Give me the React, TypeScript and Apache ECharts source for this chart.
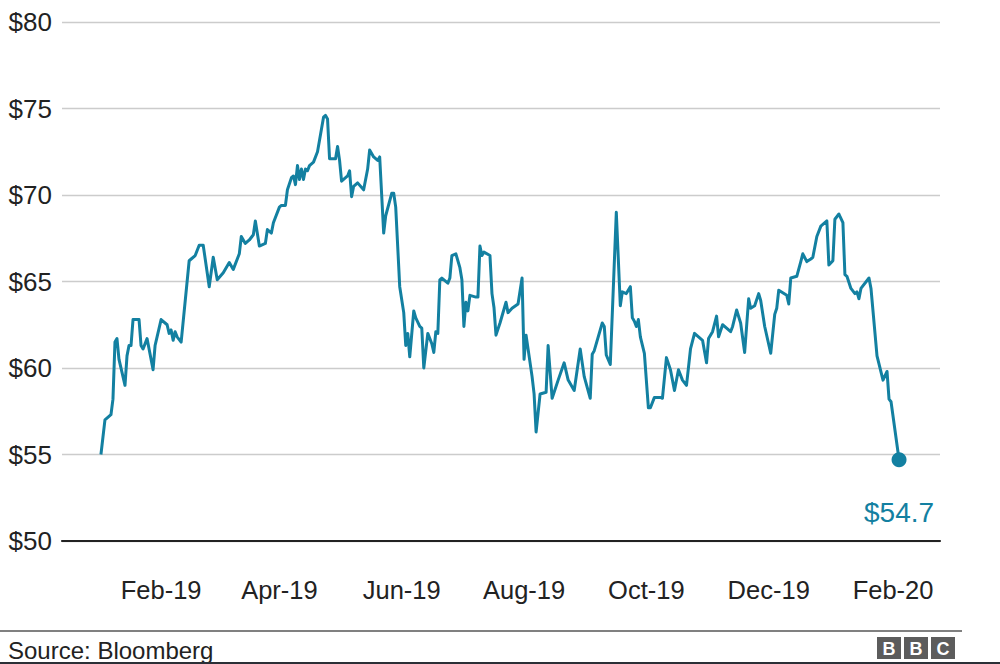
import React, { useEffect, useRef } from 'react';
import * as echarts from 'echarts';

// Brent crude, US$ per barrel. Day offsets are counted from 1 January 2019.
const baseDate = '2019-01-01';
const tradingDay = [
  1, 3, 6, 7, 8, 9, 10, 13, 14, 15, 16, 17, 20, 21, 22, 24, 27, 28, 29, 31,
  34, 35, 36, 37, 38, 39, 41, 45, 46, 48, 50, 52, 55, 57, 59, 62, 65, 67, 70, 71,
  73, 75, 77, 78, 80, 83, 84, 86, 87, 90, 91, 93, 94, 96, 97, 98, 99, 100, 101, 102,
  103, 104, 105, 107, 109, 112, 113, 114, 115, 118, 119, 120, 121, 124, 125, 126, 127, 129, 132, 134,
  135, 137, 139, 140, 142, 143, 146, 147, 148, 150, 152, 153, 154, 155, 157, 158, 160, 161, 162, 164,
  166, 167, 168, 169, 170, 171, 174, 175, 176, 178, 180, 181, 182, 183, 184, 185, 188, 189, 190, 191,
  192, 195, 196, 197, 198, 200, 203, 204, 206, 209, 211, 212, 213, 216, 217, 218, 220, 223, 224, 226,
  229, 232, 234, 237, 240, 242, 245, 246, 247, 251, 252, 253, 255, 258, 260, 261, 263, 265, 266, 267,
  268, 269, 270, 272, 274, 275, 277, 280, 281, 283, 285, 287, 289, 291, 293, 295, 297, 299, 301, 303,
  304, 306, 308, 309, 311, 313, 315, 316, 318, 320, 322, 324, 325, 327, 329, 330, 332, 335, 337, 338,
  339, 343, 344, 345, 348, 350, 351, 353, 355, 356, 358, 360, 363, 364, 366, 367, 369, 371, 372, 373,
  375, 377, 378, 379, 380, 384, 385, 388, 391, 393, 394, 395, 399,
];
const brentPrice = [
  55.0, 57.0, 57.3, 58.2, 61.5, 61.7, 60.5, 59.0, 60.7, 61.3, 61.3, 62.8, 62.8, 61.3, 61.1, 61.7, 59.9, 61.3, 61.8, 62.8,
  62.5, 62.0, 62.2, 61.6, 62.1, 61.8, 61.5, 66.2, 66.3, 66.5, 67.1, 67.1, 64.7, 66.4, 65.1, 65.5, 66.1, 65.7, 66.6, 67.6,
  67.2, 67.4, 67.7, 68.5, 67.05, 67.2, 68.0, 67.8, 68.4, 69.3, 69.4, 69.4, 70.3, 71.0, 71.1, 70.6, 71.7, 70.9, 71.5, 70.9,
  71.5, 71.4, 71.7, 71.9, 72.5, 74.5, 74.6, 74.4, 72.1, 72.1, 72.8, 72.0, 70.8, 71.1, 71.4, 69.9, 70.5, 70.7, 70.3, 71.5,
  72.6, 72.2, 72.0, 72.2, 67.8, 68.8, 70.1, 70.1, 69.3, 64.7, 63.2, 61.3, 62.0, 60.65, 63.3, 62.9, 62.4, 62.3, 60.0, 62.0,
  61.4, 60.9, 62.1, 62.0, 65.1, 65.2, 64.9, 65.2, 66.5, 66.6, 65.8, 65.1, 62.4, 63.8, 63.3, 64.2, 64.1, 64.1, 67.05, 66.5,
  66.7, 66.5, 64.3, 63.5, 61.9, 62.6, 63.8, 63.2, 63.45, 63.7, 65.2, 60.5, 61.9, 59.5, 58.5, 56.3, 58.5, 58.6, 61.3, 58.25,
  59.3, 60.3, 59.3, 58.7, 61.1, 59.5, 58.25, 60.8, 61.0, 62.6, 62.4, 60.75, 60.2, 69.0, 63.6, 64.4, 64.3, 64.7, 62.9, 62.7,
  62.4, 62.8, 61.8, 60.85, 57.7, 57.7, 58.3, 58.3, 58.25, 60.6, 59.9, 58.7, 59.9, 59.3, 59.0, 61.1, 62.0, 61.8, 61.6, 60.3,
  61.7, 62.1, 63.0, 61.8, 62.5, 62.3, 62.1, 62.4, 63.35, 62.6, 60.9, 64.0, 63.45, 63.6, 64.3, 63.9, 62.4, 60.85, 63.1, 63.45,
  64.5, 64.2, 63.7, 65.2, 65.3, 66.15, 66.6, 66.15, 66.3, 66.4, 67.6, 68.2, 68.5, 65.95, 66.2, 68.6, 68.9, 68.4, 65.4, 65.3,
  64.6, 64.3, 64.4, 64.0, 64.6, 65.2, 64.6, 60.7, 59.3, 59.8, 58.2, 58.05, 54.7,
];

const tickDates = ['2019-02-01', '2019-04-01', '2019-06-01', '2019-08-01', '2019-10-01', '2019-12-01', '2020-02-01'];
const tickLabels = ['Feb-19', 'Apr-19', 'Jun-19', 'Aug-19', 'Oct-19', 'Dec-19', 'Feb-20'];
const yMin = 50;
const yMax = 80;
const yStep = 5;
const axisStart = '2018-12-13T14:00:00Z';
const axisEnd = '2020-02-24T10:00:00Z';
const sourceText = 'Source: Bloomberg';

const LINE = '#1380A1';
const FONT = '"Liberation Sans", Arial, Helvetica, sans-serif';
const DAY = 86400000;

export default function App() {
  const ref = useRef<HTMLDivElement>(null);

  useEffect(() => {
    if (!ref.current) return;
    const chart = echarts.init(ref.current, null, { renderer: 'svg' });
    const base = Date.parse(baseDate);
    const points = tradingDay.map((d, i) => [base + d * DAY, brentPrice[i]]);
    const last = points[points.length - 1];
    const tickValues = tickDates.map((d) => Date.parse(d));

    const labelFor = (v: number) => {
      let best = 0;
      let bestDiff = Infinity;
      tickValues.forEach((t, i) => {
        const diff = Math.abs(t - v);
        if (diff < bestDiff) {
          bestDiff = diff;
          best = i;
        }
      });
      return tickLabels[best];
    };

    const bbcX = [877, 904, 931];
    const bbcLetters = ['B', 'B', 'C'];

    chart.setOption({
      animation: false,
      backgroundColor: '#ffffff',
      textStyle: { fontFamily: FONT },
      grid: { left: 62, right: 60, top: 22, bottom: 123, containLabel: false },
      xAxis: {
        type: 'value',
        min: Date.parse(axisStart),
        max: Date.parse(axisEnd),
        z: 5,
        axisLine: { show: true, onZero: false, lineStyle: { color: '#222222', width: 2.2 } },
        axisTick: { show: false },
        splitLine: { show: false },
        axisLabel: {
          customValues: tickValues,
          formatter: (v: number) => labelFor(v),
          color: '#222222',
          fontSize: 25.5,
          fontFamily: FONT,
          margin: 36,
          hideOverlap: false,
          showMinLabel: true,
          showMaxLabel: true,
        },
      },
      yAxis: {
        type: 'value',
        min: yMin,
        max: yMax,
        interval: yStep,
        axisLine: { show: false },
        axisTick: { show: false },
        splitLine: { show: true, lineStyle: { color: '#cccccc', width: 1.3 } },
        axisLabel: {
          formatter: (v: number) => '$' + v,
          color: '#222222',
          fontSize: 26,
          fontFamily: FONT,
          margin: 10,
        },
      },
      series: [
        {
          type: 'line',
          data: points,
          showSymbol: false,
          smooth: false,
          lineStyle: { color: LINE, width: 3, join: 'round' },
          z: 3,
        },
        {
          type: 'scatter',
          data: [last],
          symbol: 'circle',
          symbolSize: 15,
          itemStyle: { color: LINE, opacity: 1 },
          z: 4,
          label: {
            show: true,
            position: 'bottom',
            distance: 31,
            formatter: (p: any) => '$' + p.value[1],
            color: LINE,
            opacity: 1,
            fontSize: 28,
            fontFamily: FONT,
          },
        },
      ],
      graphic: [
        {
          type: 'line',
          shape: { x1: 0, y1: 631, x2: 962, y2: 631 },
          style: { stroke: '#808080', lineWidth: 2 },
        },
        {
          type: 'text',
          x: 8,
          y: 650,
          style: {
            text: sourceText,
            fill: '#222222',
            fontSize: 24,
            fontFamily: FONT,
            textAlign: 'left',
            textVerticalAlign: 'middle',
          },
        },
        ...bbcX.map((x) => ({
          type: 'rect',
          shape: { x, y: 637, width: 24, height: 22 },
          style: { fill: '#5c5c5c' },
        })),
        ...bbcX.map((x, i) => ({
          type: 'text',
          x: x + 12,
          y: 648.5,
          style: {
            text: bbcLetters[i],
            fill: '#ffffff',
            fontSize: 18,
            fontWeight: 'bold',
            fontFamily: FONT,
            textAlign: 'center',
            textVerticalAlign: 'middle',
          },
        })),
        {
          type: 'rect',
          shape: { x: 0, y: 662, width: 1000, height: 2 },
          style: { fill: '#2b2f36' },
        },
      ],
    });

    return () => chart.dispose();
  }, []);

  return (
    <div
      ref={ref}
      style={{ position: 'fixed', left: 0, top: 0, width: 1000, height: 664, background: '#ffffff' }}
    />
  );
}
